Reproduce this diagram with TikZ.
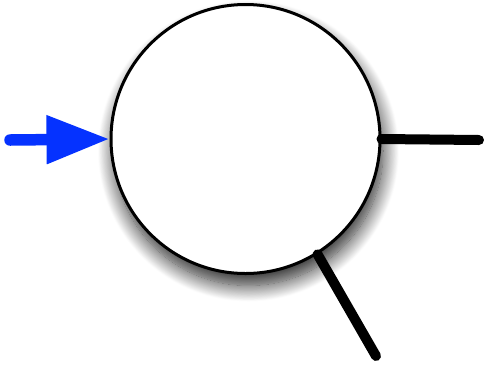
\documentclass[tikz,border=0pt]{standalone}
\usetikzlibrary{shadows.blur,arrows.meta}
\definecolor{arrowblue}{RGB}{5,50,255}
\begin{document}
\begin{tikzpicture}[x=1pt,y=-1pt,
  ball/.style={circle,draw=black,line width=3pt,fill=white,minimum size=269pt,inner sep=0pt,
    blur shadow={shadow xshift=3pt,shadow yshift=-12pt,shadow blur radius=16pt,shadow blur steps=20,shadow opacity=85}},
  stub/.style={line width=10pt,line cap=round,black},
  inarrow/.style={arrowblue,line width=11.5pt,line cap=round,-{Triangle[length=63pt,width=46pt]}}]
\useasboundingbox (0,0) rectangle (484,368);
\node[ball] (c) at (245.5,139) {};
\coordinate (s) at (10,140);
\coordinate (r) at (479,140);
\coordinate (d) at (376,356);
\draw[inarrow] (s) -- (c.west);
\draw[stub] (c.east) -- (r);
\draw[stub] (c.-58.6) -- (d);
\end{tikzpicture}
\end{document}
